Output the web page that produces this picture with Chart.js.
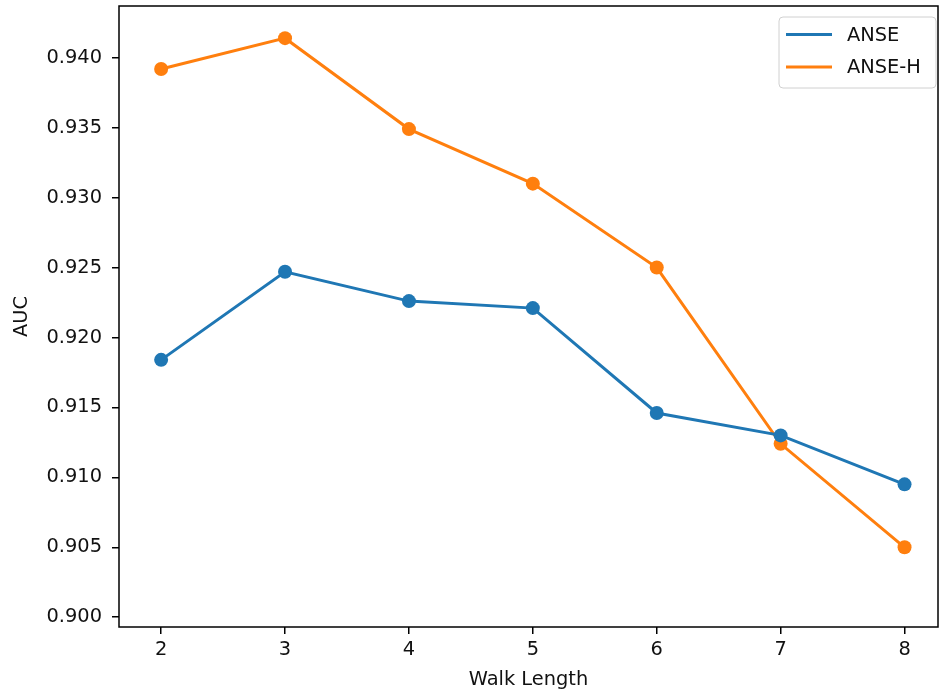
<!DOCTYPE html>
<html>
<head>
<meta charset="utf-8">
<script src="https://cdn.jsdelivr.net/npm/chart.js@4"></script>
<style>
  html, body { margin: 0; padding: 0; background: #fff; }
  #wrap { width: 940px; height: 696px; }
</style>
</head>
<body>
<div id="wrap"><canvas id="aucChart" width="940" height="696"></canvas></div>
<script>
const walkLengths = [2, 3, 4, 5, 6, 7, 8];
const anse = [0.9184, 0.9247, 0.9226, 0.9221, 0.9146, 0.9130, 0.9095];
const anseH = [0.9392, 0.9414, 0.9349, 0.9310, 0.9250, 0.9124, 0.9050];
const xTicks = [2, 3, 4, 5, 6, 7, 8];
const yTicks = [0.900, 0.905, 0.910, 0.915, 0.920, 0.925, 0.930, 0.935, 0.940];

const FONT = { family: "'DejaVu Sans', sans-serif", size: 19.4 };

// рамка осей поверх ліній, як у matplotlib
const framePlugin = {
  id: 'frame',
  afterDatasetsDraw(chart) {
    const { ctx, chartArea: a } = chart;
    ctx.save();
    ctx.strokeStyle = '#000';
    ctx.lineWidth = 1.5;
    ctx.strokeRect(a.left, a.top, a.right - a.left, a.bottom - a.top);
    ctx.restore();
  }
};

// легенда всередині області графіка (правий верхній кут)
const innerLegend = {
  id: 'innerLegend',
  afterDraw(chart) {
    const { ctx, chartArea: a } = chart;
    const w = 157, h = 71;
    const x = a.right - 2 - w, y = a.top + 11;
    ctx.save();
    ctx.beginPath();
    ctx.roundRect(x, y, w, h, 4);
    ctx.fillStyle = 'rgba(255,255,255,0.8)';
    ctx.fill();
    ctx.strokeStyle = '#d0d0d0';
    ctx.lineWidth = 1;
    ctx.stroke();
    ctx.font = `${FONT.size}px ${FONT.family}`;
    ctx.textBaseline = 'middle';
    chart.data.datasets.forEach((ds, i) => {
      const ly = y + 17.5 + i * 32.5;
      ctx.strokeStyle = ds.borderColor;
      ctx.lineWidth = 3;
      ctx.beginPath();
      ctx.moveTo(x + 7, ly);
      ctx.lineTo(x + 53, ly);
      ctx.stroke();
      ctx.fillStyle = '#111';
      ctx.fillText(ds.label, x + 68, ly + 1);
    });
    ctx.restore();
  }
};

const toPoints = vals => vals.map((v, i) => ({ x: walkLengths[i], y: v }));

// без додаткових відступів під крайні підписи
const noPad = s => { s.paddingTop = 0; s.paddingBottom = 0; s.paddingLeft = 0; s.paddingRight = 0; };

new Chart(document.getElementById('aucChart'), {
  type: 'line',
  data: {
    datasets: [
      {
        label: 'ANSE',
        data: toPoints(anse),
        borderColor: '#1f77b4',
        backgroundColor: '#1f77b4',
        borderWidth: 3,
        pointRadius: 7,
        pointBorderWidth: 0,
        tension: 0,
        clip: false
      },
      {
        label: 'ANSE-H',
        data: toPoints(anseH),
        borderColor: '#ff7f0e',
        backgroundColor: '#ff7f0e',
        borderWidth: 3,
        pointRadius: 7,
        pointBorderWidth: 0,
        tension: 0,
        clip: false
      }
    ]
  },
  options: {
    responsive: false,
    animation: false,
    devicePixelRatio: 1,
    layout: { autoPadding: false, padding: { left: 0, top: 6, right: 2, bottom: 0 } },
    plugins: { legend: { display: false }, tooltip: { enabled: false } },
    scales: {
      x: {
        type: 'linear',
        min: 1.66,
        max: 8.27,
        afterBuildTicks: s => { s.ticks = xTicks.map(v => ({ value: v })); },
        afterFit: s => { s.height = 69; noPad(s); },
        ticks: { font: FONT, color: '#111', padding: 4, maxRotation: 0 },
        grid: { drawOnChartArea: false, tickLength: 7, color: '#000', lineWidth: 1.5 },
        border: { display: false },
        title: { display: true, text: 'Walk Length', font: FONT, color: '#111', padding: { top: 0, bottom: 4 } }
      },
      y: {
        type: 'linear',
        min: 0.8993,
        max: 0.9437,
        afterBuildTicks: s => { s.ticks = yTicks.map(v => ({ value: v })); },
        afterFit: s => { s.width = 119; noPad(s); },
        ticks: { font: FONT, color: '#111', padding: 10, callback: v => v.toFixed(3) },
        grid: { drawOnChartArea: false, tickLength: 7, color: '#000', lineWidth: 1.5 },
        border: { display: false },
        title: { display: true, text: 'AUC', font: FONT, color: '#111', padding: { top: 10, bottom: 0 } }
      }
    }
  },
  plugins: [framePlugin, innerLegend]
});
</script>
</body>
</html>
